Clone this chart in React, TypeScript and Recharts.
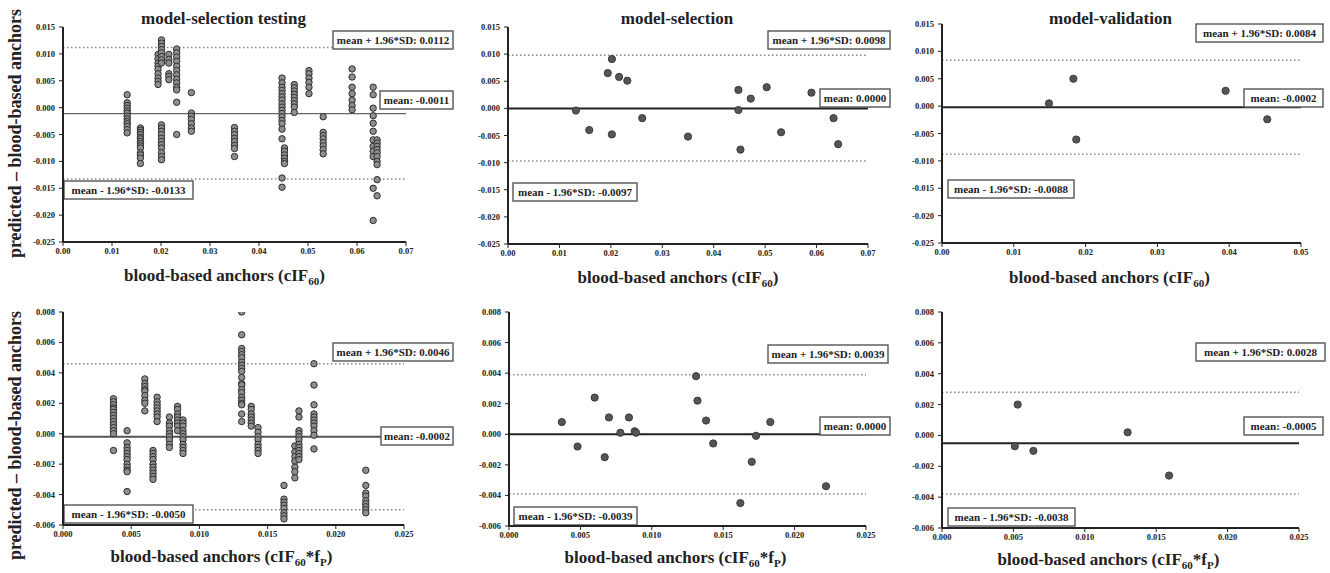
import React from 'react';
import { ScatterChart, Scatter, XAxis, YAxis, ReferenceLine } from 'recharts';

const FONT = '"Liberation Serif", "Times New Roman", Times, serif';

// ---------- data ----------
const panelTitles = ['model-selection testing', 'model-selection', 'model-validation'];

// model-selection testing, cIF60 (columns: x value, many y values)
const testTopX = [0.0131, 0.0158, 0.0194, 0.0201, 0.0216, 0.0232, 0.0262, 0.035, 0.0447, 0.0452, 0.0472, 0.0502, 0.0531, 0.059, 0.0633, 0.0641];
const testTopY = [
  [0.0024, 0.0009, 0.0004, -0.0001, -0.0006, -0.001, -0.0016, -0.0021, -0.0026, -0.003, -0.0035, -0.0041, -0.0047],
  [-0.0038, -0.0042, -0.0046, -0.005, -0.0055, -0.0058, -0.0063, -0.0067, -0.0071, -0.0075, -0.0084, -0.0088, -0.0094, -0.0104],
  [0.0099, 0.0091, 0.0083, 0.0077, 0.0071, 0.0063, 0.0055, 0.0049, 0.0043],
  [0.0126, 0.012, 0.0114, 0.0108, 0.0102, 0.0095, 0.0089, 0.0083, -0.0032, -0.0038, -0.0044, -0.005, -0.0057, -0.0063, -0.0069, -0.0075, -0.0084, -0.0091, -0.0097],
  [0.0099, 0.009, 0.0083, 0.0063, 0.0058, 0.0052],
  [0.0109, 0.0102, 0.0094, 0.0086, 0.0077, 0.0069, 0.0061, 0.0053, 0.0046, 0.0038, 0.0033, 0.001, -0.005],
  [0.0028, -0.001, -0.0016, -0.0022, -0.003, -0.0038, -0.0044],
  [-0.0037, -0.0044, -0.005, -0.0057, -0.0063, -0.007, -0.0076, -0.0091],
  [0.0055, 0.0046, 0.0038, 0.0032, 0.0026, 0.002, 0.0014, 0.0007, 0.0001, -0.0005, -0.0011, -0.0017, -0.0024, -0.003, -0.004, -0.0058, -0.0131, -0.0148],
  [-0.0075, -0.0081, -0.0088, -0.0094, -0.01, -0.0104],
  [0.0043, 0.0037, 0.0031, 0.0025, 0.0019, 0.0013, 0.0007, 0.0001, -0.0009],
  [0.0069, 0.0063, 0.0055, 0.0047, 0.0038, 0.0026],
  [-0.0017, -0.0046, -0.0052, -0.0058, -0.0065, -0.0071, -0.0078, -0.0086],
  [0.0072, 0.0057, 0.0038, 0.0026, 0.0014, 0.0004, -0.0004],
  [0.0038, 0.0024, -0.0001, -0.0015, -0.0029, -0.0044, -0.006, -0.0072, -0.0081, -0.0091, -0.015, -0.021],
  [-0.006, -0.0066, -0.0072, -0.0078, -0.0084, -0.0091, -0.01, -0.0106, -0.0134, -0.0164],
];

// model-selection, cIF60
const selTopX = [0.0132, 0.0158, 0.0194, 0.0202, 0.0202, 0.0216, 0.0232, 0.0261, 0.035, 0.0448, 0.0448, 0.0452, 0.0472, 0.0503, 0.0531, 0.059, 0.0633, 0.0642];
const selTopY = [-0.0004, -0.004, 0.0065, 0.0091, -0.0048, 0.0058, 0.0051, -0.0018, -0.0052, 0.0034, -0.0003, -0.0076, 0.0018, 0.0039, -0.0044, 0.0029, -0.0018, -0.0066];

// model-validation, cIF60
const valTopX = [0.0149, 0.0183, 0.0187, 0.0395, 0.0453];
const valTopY = [0.0005, 0.005, -0.0061, 0.0028, -0.0024];

// model-selection testing, cIF60*fP
const testBotX = [0.0037, 0.0047, 0.006, 0.0066, 0.0069, 0.0078, 0.0084, 0.0088, 0.0131, 0.0138, 0.0143, 0.0162, 0.017, 0.0173, 0.0184, 0.0222];
const testBotY = [
  [0.0023, 0.0021, 0.0019, 0.0017, 0.0016, 0.0014, 0.0012, 0.001, 0.0008, 0.0006, 0.0004, 0.0002, 0.0, -0.0011],
  [0.0002, -0.0006, -0.0009, -0.0011, -0.0013, -0.0015, -0.0017, -0.002, -0.0022, -0.0024, -0.0025, -0.0038],
  [0.0036, 0.0033, 0.0031, 0.0029, 0.0028, 0.0025, 0.0022, 0.002, 0.0015],
  [-0.0011, -0.0013, -0.0015, -0.0017, -0.002, -0.0022, -0.0024, -0.0026, -0.0028, -0.003],
  [0.0024, 0.0021, 0.0019, 0.0017, 0.0015, 0.0013, 0.0011, 0.0008],
  [0.0011, 0.0007, 0.0005, 0.0002, 0.0, -0.0002, -0.0004, -0.0007, -0.0009],
  [0.0018, 0.0016, 0.0013, 0.0011, 0.0009, 0.0007, 0.0005, 0.0002],
  [0.0009, 0.0007, 0.0005, 0.0002, 0.0, -0.0002, -0.0004, -0.0007, -0.0009, -0.0011, -0.0013],
  [0.008, 0.0065, 0.0056, 0.0054, 0.0052, 0.005, 0.0047, 0.0045, 0.0043, 0.0041, 0.0037, 0.0033, 0.0032, 0.0029, 0.0027, 0.0024, 0.0022, 0.002, 0.0019, 0.0013, 0.0008],
  [0.0018, 0.0016, 0.0013, 0.0011, 0.0009, 0.0007, 0.0005],
  [0.0004, 0.0001, -0.0002, -0.0004, -0.0007, -0.0009, -0.0011, -0.0013],
  [-0.0034, -0.0043, -0.0045, -0.0047, -0.0049, -0.0052, -0.0054, -0.0056],
  [-0.0008, -0.0012, -0.0015, -0.0018, -0.0022, -0.0025, -0.0029],
  [0.0015, 0.0011, 0.0002, 0.0, -0.0002, -0.0004, -0.0007, -0.0009, -0.0011, -0.0013, -0.0015, -0.0017],
  [0.0046, 0.0032, 0.0019, 0.0013, 0.0011, 0.0009, 0.0007, 0.0005, 0.0002, -0.0001, -0.001],
  [-0.0024, -0.0034, -0.0039, -0.0041, -0.0044, -0.0046, -0.0048, -0.005, -0.0052],
];

// model-selection, cIF60*fP
const selBotX = [0.0037, 0.0048, 0.006, 0.0067, 0.007, 0.0078, 0.0084, 0.0088, 0.0089, 0.0131, 0.0132, 0.0138, 0.0143, 0.0162, 0.017, 0.0173, 0.0183, 0.0222];
const selBotY = [0.0008, -0.0008, 0.0024, -0.0015, 0.0011, 0.0001, 0.0011, 0.0002, 0.0001, 0.0038, 0.0022, 0.0009, -0.0006, -0.0045, -0.0018, -0.0001, 0.0008, -0.0034];

// model-validation, cIF60*fP
const valBotX = [0.0051, 0.0053, 0.0064, 0.013, 0.0159];
const valBotY = [-0.0007, 0.002, -0.001, 0.0002, -0.0026];

// Bland-Altman statistics per panel (TL, TM, TR, BL, BM, BR)
const upperLimits = [0.0112, 0.0098, 0.0084, 0.0046, 0.0039, 0.0028];
const meanDiffs = [-0.0011, 0.0, -0.0002, -0.0002, 0.0, -0.0005];
const lowerLimits = [-0.0133, -0.0097, -0.0088, -0.005, -0.0039, -0.0038];

// axis ticks
const xTicksTop7 = [0, 0.01, 0.02, 0.03, 0.04, 0.05, 0.06, 0.07];
const xTicksTop5 = [0, 0.01, 0.02, 0.03, 0.04, 0.05];
const xTicksBot = [0, 0.005, 0.01, 0.015, 0.02, 0.025];
const yTicksTop = [0.015, 0.01, 0.005, 0, -0.005, -0.01, -0.015, -0.02, -0.025];
const yTicksBot = [0.008, 0.006, 0.004, 0.002, 0, -0.002, -0.004, -0.006];

// ---------- helpers ----------
type Pt = { x: number; y: number };
const fromColumns = (xs: number[], ys: number[][]): Pt[] => xs.flatMap((x, i) => ys[i].map((y) => ({ x, y })));
const fromPairs = (xs: number[], ys: number[]): Pt[] => xs.map((x, i) => ({ x, y: ys[i] }));

const YW = 60;
const MT = 30;
const MR = 50;
const XH = 50;
const BOX_H = 18;

type Box = { left: number; top: number; w: number };
type Layout = {
  L: number; T: number; W: number; H: number;
  titleDx: number; xlabDx: number; xlabDy: number; ylabDy: number;
  upper: Box; mean: Box; lower: Box;
};

const layouts: Layout[] = [
  { L: 63, T: 27, W: 343, H: 215, titleDx: -11, xlabDx: -10, xlabDy: 39, ylabDy: -1,
    upper: { left: 270, top: 4, w: 120 }, mean: { left: 317, top: 64, w: 73 }, lower: { left: 1, top: 154, w: 129 } },
  { L: 508, T: 27, W: 360, H: 217, titleDx: -11, xlabDx: -10, xlabDy: 39, ylabDy: 0,
    upper: { left: 260, top: 4, w: 122 }, mean: { left: 312, top: 62, w: 70 }, lower: { left: 5, top: 156, w: 124 } },
  { L: 942, T: 24, W: 359, H: 219, titleDx: -11, xlabDx: -12, xlabDy: 40, ylabDy: 0,
    upper: { left: 254, top: 0, w: 127 }, mean: { left: 302, top: 65, w: 79 }, lower: { left: 6, top: 156, w: 126 } },
  { L: 63, T: 312, W: 341, H: 213, titleDx: 0, xlabDx: -12, xlabDy: 37, ylabDy: 17,
    upper: { left: 270, top: 31, w: 120 }, mean: { left: 318, top: 115, w: 72 }, lower: { left: 1, top: 193, w: 129 } },
  { L: 509, T: 312, W: 357, H: 214, titleDx: 0, xlabDx: -12, xlabDy: 37, ylabDy: 0,
    upper: { left: 259, top: 33, w: 120 }, mean: { left: 311, top: 105, w: 70 }, lower: { left: 5, top: 195, w: 123 } },
  { L: 942, T: 312, W: 357, H: 216, titleDx: 0, xlabDx: -12, xlabDy: 37, ylabDy: 0,
    upper: { left: 254, top: 31, w: 129 }, mean: { left: 302, top: 105, w: 79 }, lower: { left: 6, top: 196, w: 127 } },
];

type Panel = {
  data: Pt[];
  xTicks: number[]; yTicks: number[];
  xDigits: number; yDigits: number;
  title?: string; yLabel: boolean; bottom: boolean; testing: boolean;
};

const panels: Panel[] = [
  { data: fromColumns(testTopX, testTopY), xTicks: xTicksTop7, yTicks: yTicksTop, xDigits: 2, yDigits: 3, title: panelTitles[0], yLabel: true, bottom: false, testing: true },
  { data: fromPairs(selTopX, selTopY), xTicks: xTicksTop7, yTicks: yTicksTop, xDigits: 2, yDigits: 3, title: panelTitles[1], yLabel: false, bottom: false, testing: false },
  { data: fromPairs(valTopX, valTopY), xTicks: xTicksTop5, yTicks: yTicksTop, xDigits: 2, yDigits: 3, title: panelTitles[2], yLabel: false, bottom: false, testing: false },
  { data: fromColumns(testBotX, testBotY), xTicks: xTicksBot, yTicks: yTicksBot, xDigits: 3, yDigits: 3, yLabel: true, bottom: true, testing: true },
  { data: fromPairs(selBotX, selBotY), xTicks: xTicksBot, yTicks: yTicksBot, xDigits: 3, yDigits: 3, yLabel: false, bottom: true, testing: false },
  { data: fromPairs(valBotX, valBotY), xTicks: xTicksBot, yTicks: yTicksBot, xDigits: 3, yDigits: 3, yLabel: false, bottom: true, testing: false },
];

const tickStyle = { fontSize: 8.5, fontWeight: 700, fill: '#222', fontFamily: FONT };

const boxLabel = (text: string, b: Box) => (props: any) => {
  const vb = (props && props.viewBox) || {};
  const px = typeof vb.x === 'number' ? vb.x : YW;
  const x = px + b.left;
  const y = MT + b.top;
  return (
    <g>
      <rect x={x} y={y} width={b.w} height={BOX_H} fill="#ffffff" stroke="#555" strokeWidth={1.4} />
      <text x={x + b.w / 2} y={y + BOX_H / 2 + 4} textAnchor="middle" fontFamily={FONT} fontWeight={700} fontSize={11} fill="#222">
        {text}
      </text>
    </g>
  );
};

const xLabel = (bottom: boolean, dx: number, dy: number) => (props: any) => {
  const vb = (props && props.viewBox) || {};
  const cx = (vb.x ?? YW) + (vb.width ?? 300) / 2 + dx;
  const y = (vb.y ?? 250) + dy;
  return (
    <text x={cx} y={y} textAnchor="middle" fontFamily={FONT} fontWeight={700} fontSize={17} fill="#222">
      <tspan>blood-based anchors (cIF</tspan>
      <tspan fontSize={11} dy={4}>60</tspan>
      {bottom ? (
        <>
          <tspan dy={-4}>*f</tspan>
          <tspan fontSize={11} dy={4}>P</tspan>
          <tspan dy={-4}>)</tspan>
        </>
      ) : (
        <tspan dy={-4}>)</tspan>
      )}
    </text>
  );
};

const yLabel = (dy: number) => (props: any) => {
  const vb = (props && props.viewBox) || {};
  const cx = 12;
  const cy = (vb.y ?? MT) + (vb.height ?? 200) / 2 + dy;
  return (
    <text x={cx} y={cy} transform={`rotate(-90 ${cx} ${cy})`} textAnchor="middle" dominantBaseline="central"
      fontFamily={FONT} fontWeight={700} fontSize={18} fill="#222">
      predicted – blood-based anchors
    </text>
  );
};

const fmt = (d: number) => (v: number) => (Math.abs(v) < 1e-12 ? 0 : v).toFixed(d);

function PanelChart({ p, lay, idx }: { p: Panel; lay: Layout; idx: number }) {
  const width = YW + lay.W + MR;
  const height = MT + lay.H + XH;
  const dotFill = p.testing ? '#8e8e8e' : '#555';
  const dotStroke = p.testing ? '#2e2e2e' : '#3a3a3a';
  const dotR = p.testing ? 3.2 : 3.6;
  const meanStroke = idx === 0 ? '#666' : idx === 3 ? '#555' : '#222';
  const meanWidth = idx === 0 ? 1.3 : 2;
  const xMax = p.xTicks[p.xTicks.length - 1];
  const yMin = p.yTicks[p.yTicks.length - 1];
  const yMax = p.yTicks[0];
  return (
    <div style={{ position: 'absolute', left: lay.L - YW, top: lay.T - MT, width, height }}>
      <ScatterChart width={width} height={height} margin={{ top: MT, right: MR, bottom: 0, left: 0 }}>
        <XAxis
          dataKey="x" type="number" domain={[0, xMax]} ticks={p.xTicks} interval={0}
          tickFormatter={fmt(p.xDigits)} tick={tickStyle} tickSize={4} tickMargin={2}
          axisLine={{ stroke: '#222', strokeWidth: 2 }} tickLine={{ stroke: '#222', strokeWidth: 1 }}
          height={XH} allowDataOverflow
          label={xLabel(p.bottom, lay.xlabDx, lay.xlabDy)}
        />
        <YAxis
          dataKey="y" type="number" domain={[yMin, yMax]} ticks={p.yTicks} interval={0}
          tickFormatter={fmt(p.yDigits)} tick={tickStyle} tickSize={4} tickMargin={4}
          axisLine={{ stroke: '#222', strokeWidth: 2 }} tickLine={{ stroke: '#222', strokeWidth: 1 }}
          width={YW} allowDataOverflow
          label={p.yLabel ? yLabel(lay.ylabDy) : undefined}
        />
        <Scatter
          data={p.data}
          isAnimationActive={false}
          shape={(s: any) => <circle cx={s.cx} cy={s.cy} r={dotR} fill={dotFill} stroke={dotStroke} strokeWidth={1} />}
        />
        <ReferenceLine y={upperLimits[idx]} stroke="#888" strokeWidth={1.5} strokeDasharray="1.5 2.5"
          label={boxLabel(`mean + 1.96*SD: ${upperLimits[idx].toFixed(4)}`, lay.upper)} />
        <ReferenceLine y={lowerLimits[idx]} stroke="#888" strokeWidth={1.5} strokeDasharray="1.5 2.5"
          label={boxLabel(`mean - 1.96*SD: ${lowerLimits[idx].toFixed(4)}`, lay.lower)} />
        <ReferenceLine y={meanDiffs[idx]} stroke={meanStroke} strokeWidth={meanWidth}
          label={boxLabel(`mean: ${fmt(4)(meanDiffs[idx])}`, lay.mean)} />
      </ScatterChart>
      {p.title ? (
        <div style={{
          position: 'absolute', left: YW + lay.W / 2 + lay.titleDx - 150, top: 10 - (lay.T - MT), width: 300,
          textAlign: 'center', fontFamily: FONT, fontWeight: 700, fontSize: 17, lineHeight: '17px', color: '#222',
        }}>{p.title}</div>
      ) : null}
    </div>
  );
}

export default function App() {
  return (
    <div style={{ position: 'absolute', left: 0, top: 0, width: 1330, height: 573, background: '#fff', overflow: 'hidden' }}>
      {panels.map((p, i) => (
        <PanelChart key={i} p={p} lay={layouts[i]} idx={i} />
      ))}
    </div>
  );
}
